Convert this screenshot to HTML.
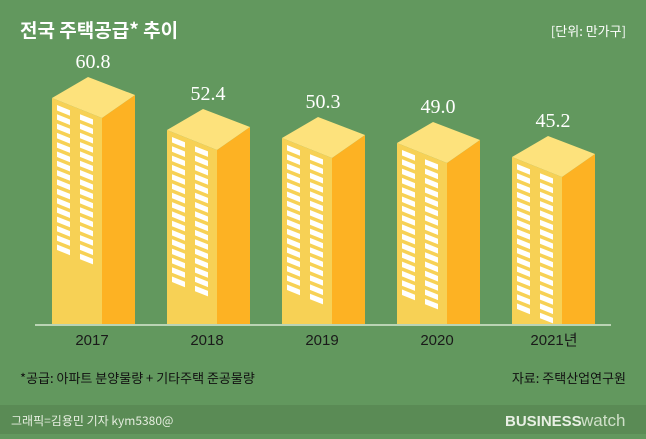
<!DOCTYPE html>
<html><head><meta charset="utf-8"><style>
body{margin:0;width:646px;height:434px;overflow:hidden;background:#62985e;font-family:"Liberation Sans","Noto Sans CJK KR",sans-serif}
</style></head><body>
<svg id="s" width="646" height="434" xmlns="http://www.w3.org/2000/svg">
<rect width="646" height="434" fill="#62985e"/>
<rect y="405" width="646" height="29" fill="#5a8b55"/>
<text x="20" y="37" fill="#fff" font-size="19" font-weight="bold" font-family="Noto Sans CJK KR,sans-serif">전국 주택공급* 추이</text>
<text x="626" y="36" fill="#fff" font-size="13" text-anchor="end" font-family="Noto Sans CJK KR,sans-serif">[단위: 만가구]</text>
<line x1="35" y1="325" x2="611" y2="325" stroke="#d8e8d0" stroke-width="1.5"/>
<g id="b"></g>
<g font-size="15" fill="#1a1a1a" text-anchor="middle" font-family="Liberation Sans,Noto Sans CJK KR,sans-serif">
<text x="92" y="345">2017</text><text x="207" y="345">2018</text><text x="322" y="345">2019</text><text x="437" y="345">2020</text><text x="554" y="345">2021년</text></g>
<text x="20" y="383" fill="#111" font-size="13" font-family="Noto Sans CJK KR,sans-serif">*공급: 아파트 분양물량 + 기타주택 준공물량</text>
<text x="626" y="383" fill="#111" font-size="13" text-anchor="end" font-family="Noto Sans CJK KR,sans-serif">자료: 주택산업연구원</text>
<text x="11" y="425" fill="#e6eee0" font-size="12" font-family="Noto Sans CJK KR,sans-serif">그래픽=김용민 기자 kym5380@</text>
<text x="505" y="426" fill="#e8efe4" font-size="15" font-weight="bold" font-family="Liberation Sans,sans-serif">BUSINESS</text>
<text x="581" y="426" fill="#cfe0c9" font-size="17" font-family="Liberation Sans,sans-serif">watch</text>
</svg>
<script>
var g=document.getElementById('b'),h='';
var data=[[52,98,'60.8'],[167,130,'52.4'],[282,138,'50.3'],[397,143,'49.0'],[512,157,'45.2']];
data.forEach(function(d){var x=d[0],y=d[1],B=324;
var fx=x+50,fy=y+20,rx=x+83,ry=y-3,px=x+36,py=y-21;
h+='<polygon points="'+x+','+y+' '+fx+','+fy+' '+fx+','+B+' '+x+','+B+'" fill="#f7d155"/>';
h+='<polygon points="'+fx+','+fy+' '+rx+','+ry+' '+rx+','+B+' '+fx+','+B+'" fill="#fdb223"/>';
h+='<polygon points="'+x+','+y+' '+px+','+py+' '+rx+','+ry+' '+fx+','+fy+'" fill="#fde27c"/>';
for(var c=0;c<2;c++){var wx=x+5+c*23;for(var i=0;i<16;i++){var wy=y+5+i*9.3+(wx-x)*0.4;
h+='<polygon points="'+wx+','+wy+' '+(wx+13)+','+(wy+5.2)+' '+(wx+13)+','+(wy+10.7)+' '+wx+','+(wy+5.5)+'" fill="#fff"/>';}}
h+='<text x="'+(px+5)+'" y="'+(py-9)+'" fill="#fff" font-size="20" text-anchor="middle" font-family="Liberation Serif,serif">'+d[2]+'</text>';
});
g.innerHTML=h;
</script>
</body></html>
